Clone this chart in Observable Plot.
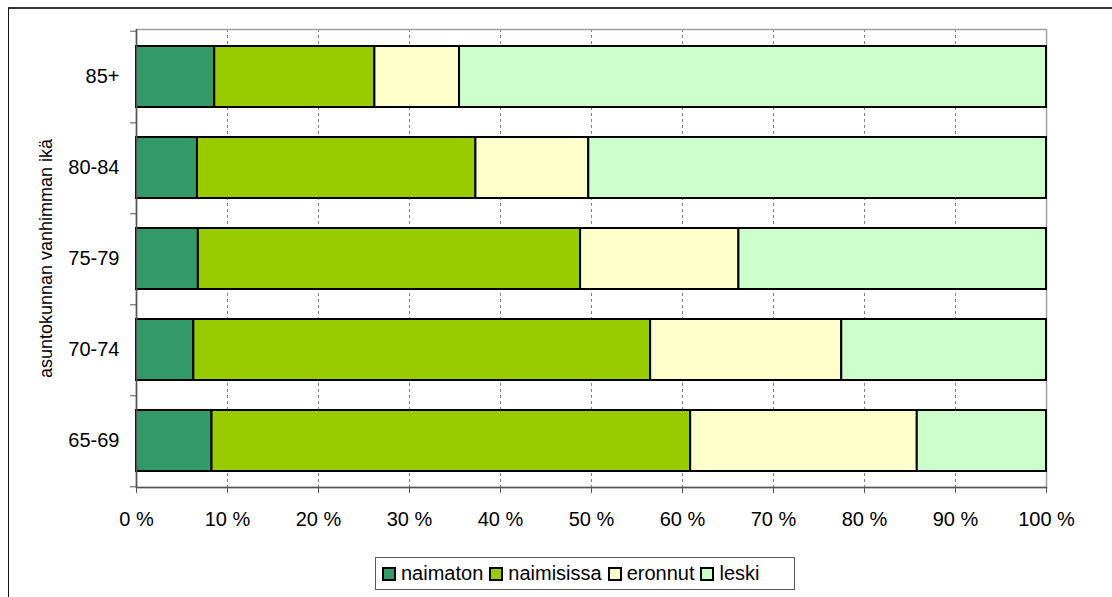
<!DOCTYPE html>
<html>
<head>
<meta charset="utf-8">
<script src="https://cdn.jsdelivr.net/npm/d3@7"></script>
<script src="https://cdn.jsdelivr.net/npm/@observablehq/plot@0.6"></script>
<style>
  html, body { margin: 0; padding: 0; background: #fff; }
  body { width: 1112px; height: 597px; position: relative; overflow: hidden; font-family: "Liberation Sans", Arial, sans-serif; }
  #outer { position: absolute; left: 8px; top: 7px; width: 1200px; height: 700px; border-left: 1px solid #111; border-top: 2px solid #333; }
  #chart { position: absolute; left: 0; top: 0; }
  #legend { position: absolute; left: 375px; top: 557px; width: 420px; height: 33px; border: 1px solid #555; background: #fff;
            display: flex; align-items: center; font-size: 20px; color: #000; box-sizing: border-box; padding-left: 6px; }
  .item { display: flex; align-items: center; margin-right: 6px; }
  .sw { width: 10px; height: 10px; border: 2px solid #000; margin-right: 5px; }
</style>
</head>
<body>
<div id="outer"></div>
<div id="chart"></div>
<div id="legend"></div>
<script>
const ages = ["85+", "80-84", "75-79", "70-74", "65-69"];
const series = ["naimaton", "naimisissa", "eronnut", "leski"];
const naimaton   = [8.6, 6.7, 6.8, 6.3, 8.3];
const naimisissa = [17.6, 30.6, 42.0, 50.2, 52.6];
const eronnut    = [9.3, 12.4, 17.4, 21.0, 24.9];
const leski      = [64.5, 50.3, 33.8, 22.5, 14.2];
const colors = ["#339966", "#99CC00", "#FFFFCC", "#CCFFCC"];
const xTicks = [0, 10, 20, 30, 40, 50, 60, 70, 80, 90, 100];
const yTitle = "asuntokunnan vanhimman ikä";

const valuesBySeries = [naimaton, naimisissa, eronnut, leski];
const data = ages.flatMap((age, i) => series.map((s, j) => ({age, series: s, value: valuesBySeries[j][i]})));

const W = 1112, H = 597, mt = 29, mb = 110, ml = 136, mr = 66;
const step = (H - mt - mb) / ages.length;

const chart = Plot.plot({
  width: W, height: H,
  marginTop: mt, marginBottom: mb, marginLeft: ml, marginRight: mr,
  style: {fontFamily: '"Liberation Sans", Arial, sans-serif', fontSize: "20px", color: "#000", background: "transparent"},
  x: {domain: [0, 100]},
  y: {domain: ages, paddingInner: 0.33, paddingOuter: 0.165},
  color: {domain: series, range: colors},
  marks: [
    Plot.gridX(xTicks.filter(t => t > 0 && t < 100), {stroke: "#808080", strokeOpacity: 1, strokeDasharray: "3,3"}),
    Plot.frame({stroke: "#a0a0a0", strokeWidth: 1.5}),
    Plot.barX(data, Plot.stackX({y: "age", x: "value", fill: "series", z: "series", stroke: "#000", strokeWidth: 2})),
    Plot.ruleX([0], {stroke: "#555", strokeWidth: 1.5}),
    Plot.frame({anchor: "bottom", stroke: "#555", strokeWidth: 1.5}),
    Plot.axisX(xTicks, {tickSize: 6, tickPadding: 18, stroke: "#555", tickFormat: d => d + " %", label: null, fontSize: 20}),
    Plot.axisY({tickSize: 0, tickPadding: 17, label: null, fontSize: 20}),
    Plot.axisY({tickSize: 6, text: null, label: null, dy: step / 2, stroke: "#555"}),
    Plot.axisY([ages[0]], {tickSize: 6, text: null, label: null, dy: -step / 2, stroke: "#555"}),
    Plot.text([yTitle], {frameAnchor: "left", dx: -90, rotate: -90, textAnchor: "middle", lineAnchor: "middle", fontSize: 18, fill: "#000"})
  ]
});
document.getElementById("chart").appendChild(chart);

const legend = document.getElementById("legend");
series.forEach((s, i) => {
  const item = document.createElement("div");
  item.className = "item";
  const sw = document.createElement("div");
  sw.className = "sw";
  sw.style.background = colors[i];
  const t = document.createElement("span");
  t.textContent = s;
  item.appendChild(sw);
  item.appendChild(t);
  legend.appendChild(item);
});
</script>
</body>
</html>
